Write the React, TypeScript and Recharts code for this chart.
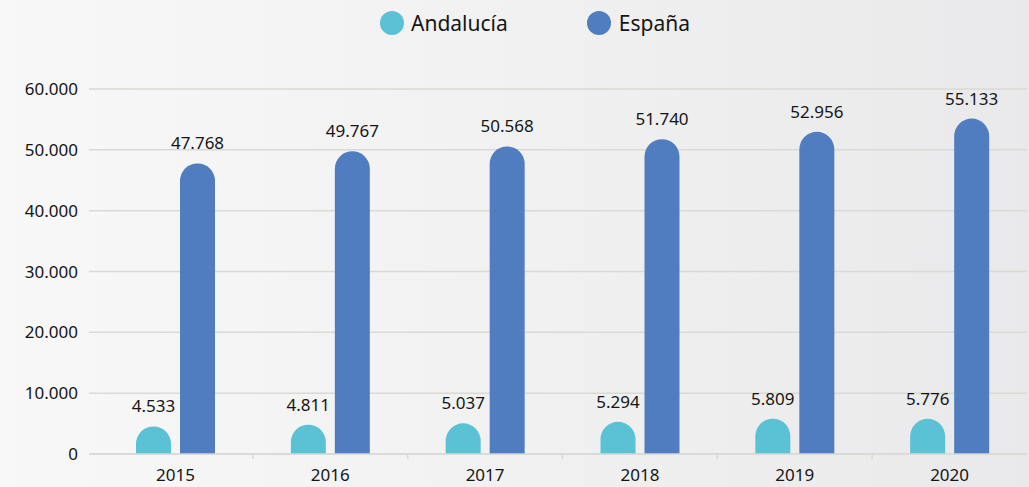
import { BarChart, Bar, XAxis, YAxis, CartesianGrid, Legend, LabelList } from "recharts";

const years = ["2015", "2016", "2017", "2018", "2019", "2020"];
const andalucia = [4533, 4811, 5037, 5294, 5809, 5776];
const espana = [47768, 49767, 50568, 51740, 52956, 55133];
const yTicks = [0, 10000, 20000, 30000, 40000, 50000, 60000];

const data = years.map((year, i) => ({ year, andalucia: andalucia[i], espana: espana[i] }));

const FONT = "'Noto Sans', sans-serif";
const CYAN = "#5bc1d5";
const BLUE = "#4f7dc0";
const GRID = "#d9d9d5";
const TEXT = "#151515";

// dots as thousands separator, like 47.768
const fmt = (v: any) => String(v).replace(/\B(?=(\d{3})+(?!\d))/g, ".");

// bar with a full half-circle on top
const DomeBar = (props: any) => {
  const { x, y, width, height, fill } = props;
  if (!height || height <= 0) return null;
  const r = width / 2;
  const d = `M${x},${y + height} L${x},${y + r} A${r},${r} 0 0 1 ${x + width},${y + r} L${x + width},${y + height} Z`;
  return <path d={d} fill={fill} />;
};

// year label, plus a small tick on the boundary to the left of the category
const YearTick = (props: any) => {
  const { x, y, payload, index } = props;
  const half = payload && payload.offset ? payload.offset : 77.5;
  return (
    <g>
      {index > 0 && (
        <line x1={x - half} x2={x - half} y1={y - 15} y2={y - 10} stroke={GRID} strokeWidth={1.5} />
      )}
      <text x={x} y={y} dy="0.71em" textAnchor="middle" fill={TEXT} fontSize={17} fontFamily={FONT}>
        {payload.value}
      </text>
    </g>
  );
};

const renderLegend = () => (
  <div style={{ display: "flex", alignItems: "center", marginLeft: 380, height: 28, fontFamily: FONT, fontSize: 21, color: TEXT }}>
    <span style={{ width: 24, height: 24, borderRadius: 12, background: CYAN, display: "inline-block" }} />
    <span style={{ marginLeft: 7 }}>Andalucía</span>
    <span style={{ width: 24, height: 24, borderRadius: 12, background: BLUE, display: "inline-block", marginLeft: 79 }} />
    <span style={{ marginLeft: 8 }}>España</span>
  </div>
);

export default function App() {
  return (
    <div
      style={{
        width: 1029,
        height: 487,
        background: "linear-gradient(90deg, #f8f8f8 0%, #f1f1f1 50%, #e9e9eb 100%)",
      }}
    >
      <style>{`body{margin:0}`}</style>
      <BarChart
        width={1029}
        height={487}
        data={data}
        margin={{ top: 61, right: 2, bottom: 3, left: 0 }}
        barSize={35}
        barGap={9}
      >
        <CartesianGrid horizontal vertical={false} stroke={GRID} strokeWidth={1.5} />
        <Legend
          verticalAlign="top"
          content={renderLegend}
          wrapperStyle={{ top: 9, left: 0, width: 1029 }}
        />
        <XAxis
          dataKey="year"
          height={30}
          padding={{ left: 9, right: 0 }}
          axisLine={{ stroke: GRID, strokeWidth: 1.5 }}
          tickLine={false}
          tick={YearTick}
          tickMargin={9}
        />
        <YAxis
          width={89}
          domain={[0, 60000]}
          ticks={yTicks}
          tickFormatter={fmt}
          axisLine={false}
          tickLine={false}
          tickMargin={5}
          tick={{ fill: TEXT, fontSize: 17, fontFamily: FONT }}
        />
        <Bar dataKey="andalucia" name="Andalucía" fill={CYAN} shape={DomeBar} isAnimationActive={false}>
          <LabelList dataKey="andalucia" position="top" offset={14} formatter={fmt} fill={TEXT} fontSize={17} fontFamily={FONT} />
        </Bar>
        <Bar dataKey="espana" name="España" fill={BLUE} shape={DomeBar} isAnimationActive={false}>
          <LabelList dataKey="espana" position="top" offset={14} formatter={fmt} fill={TEXT} fontSize={17} fontFamily={FONT} />
        </Bar>
      </BarChart>
    </div>
  );
}
